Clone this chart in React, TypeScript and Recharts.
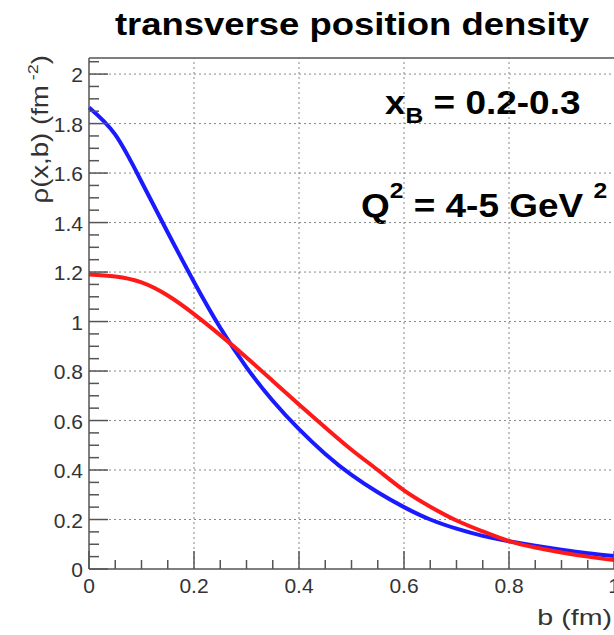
import React from "react";
import { LineChart, Line, XAxis, YAxis, ReferenceLine, Customized } from "recharts";

// b (fm) sampling points
const bValues = [0, 0.05, 0.1, 0.15, 0.2, 0.25, 0.3, 0.35, 0.4, 0.45, 0.5, 0.55, 0.6, 0.65, 0.7, 0.75, 0.8, 0.85, 0.9, 0.95, 1.0];
// rho(x,b), blue curve
const blueRho = [1.865, 1.755, 1.565, 1.36, 1.16, 0.975, 0.815, 0.68, 0.565, 0.465, 0.38, 0.31, 0.25, 0.2, 0.163, 0.134, 0.112, 0.094, 0.078, 0.064, 0.053];
// rho(x,b), red curve
const redRho = [1.19, 1.182, 1.158, 1.105, 1.03, 0.945, 0.855, 0.76, 0.665, 0.572, 0.482, 0.4, 0.318, 0.252, 0.196, 0.152, 0.113, 0.087, 0.067, 0.05, 0.036];

const xMajorTicks = [0, 0.2, 0.4, 0.6, 0.8, 1];
const yMajorTicks = [0, 0.2, 0.4, 0.6, 0.8, 1, 1.2, 1.4, 1.6, 1.8, 2];
const Y_MAX = 2.065;

const xAllTicks = Array.from({ length: 21 }, (_, i) => +(i * 0.05).toFixed(2));
const yAllTicks = Array.from({ length: 42 }, (_, i) => +(i * 0.05).toFixed(2));

const data = bValues.map((b, i) => ({ b, blue: blueRho[i], red: redRho[i] }));

const FONT = "'Liberation Sans', Arial, Helvetica, sans-serif";
const AXIS = "#555";
const GRID = "#888";

const isMajor = (v: number) => Math.abs(v * 5 - Math.round(v * 5)) < 1e-6;
const fmt = (v: number) => String(+v.toFixed(2));

const XTick = (props: any) => {
  const { x, y, payload } = props;
  const v = payload.value;
  const major = isMajor(v);
  return (
    <g>
      <line x1={x} x2={x} y1={y} y2={y - (major ? 18 : 9)} stroke={AXIS} strokeWidth={1.5} />
      {major && (
        <text x={x} y={y + 24} textAnchor="middle" fontSize={21} fill="#333" fontFamily={FONT}>
          {fmt(v)}
        </text>
      )}
    </g>
  );
};

const YTick = (props: any) => {
  const { x, y, payload } = props;
  const v = payload.value;
  const major = isMajor(v);
  return (
    <g>
      <line x1={x} x2={x + (major ? 19 : 10)} y1={y} y2={y} stroke={AXIS} strokeWidth={1.5} />
      {major && (
        <text x={x - 6} y={y + 8} textAnchor="end" fontSize={21} fill="#333" fontFamily={FONT}>
          {fmt(v)}
        </text>
      )}
    </g>
  );
};

const Texts = () => (
  <g fontFamily={FONT}>
    <text transform="translate(352,35) scale(1.14,1)" textAnchor="middle" fontSize={32} fontWeight="bold" fill="#000">
      transverse position density
    </text>
    <text transform="translate(48,55) rotate(-90) scale(1.2,1)" textAnchor="end" fontSize={23} fill="#333">
      ρ(x,b) (fm<tspan fontSize={15} dy={-10}> -2</tspan>
      <tspan dy={10}>)</tspan>
    </text>
    <text transform="translate(612,625) scale(1.3,1)" textAnchor="end" fontSize={22} fill="#333">
      b (fm)
    </text>
    <text transform="translate(385,114) scale(1.12,1)" fontSize={33} fontWeight="bold" fill="#000">
      x<tspan fontSize={22} dy={9}>B</tspan>
      <tspan dy={-9}> = 0.2-0.3</tspan>
    </text>
    <text transform="translate(361,217) scale(1.12,1)" fontSize={33} fontWeight="bold" fill="#000">
      Q<tspan fontSize={22} dy={-19}>2</tspan>
      <tspan dy={19}> = 4-5 GeV </tspan>
      <tspan fontSize={22} dy={-19}>2</tspan>
    </text>
  </g>
);

export default function App() {
  return (
    <div style={{ position: "absolute", left: 0, top: 0, width: 614, height: 635, background: "#fff", overflow: "hidden" }}>
      <LineChart width={620} height={635} data={data} margin={{ top: 58, right: 6, left: 0, bottom: 0 }}>
        {yMajorTicks.filter((v) => v > 0).map((v) => (
          <ReferenceLine key={"h" + v} y={v} stroke={GRID} strokeDasharray="2 3" strokeWidth={1} />
        ))}
        {xMajorTicks.filter((v) => v > 0 && v < 1).map((v) => (
          <ReferenceLine key={"v" + v} x={v} stroke={GRID} strokeDasharray="2 3" strokeWidth={1} />
        ))}
        <ReferenceLine y={Y_MAX} stroke={AXIS} strokeWidth={1.5} />
        <XAxis
          dataKey="b"
          type="number"
          domain={[0, 1]}
          ticks={xAllTicks}
          interval={0}
          tickSize={0}
          tickMargin={0}
          tick={<XTick />}
          axisLine={{ stroke: AXIS, strokeWidth: 1.5 }}
          height={66}
        />
        <YAxis
          type="number"
          domain={[0, Y_MAX]}
          ticks={yAllTicks}
          interval={0}
          tickSize={0}
          tickMargin={0}
          tick={<YTick />}
          axisLine={{ stroke: AXIS, strokeWidth: 1.5 }}
          width={89}
        />
        <Line type="natural" dataKey="blue" stroke="#1a1aff" strokeWidth={4} dot={false} isAnimationActive={false} />
        <Line type="natural" dataKey="red" stroke="#ff1a1a" strokeWidth={4} dot={false} isAnimationActive={false} />
        <Customized component={Texts} />
      </LineChart>
    </div>
  );
}
